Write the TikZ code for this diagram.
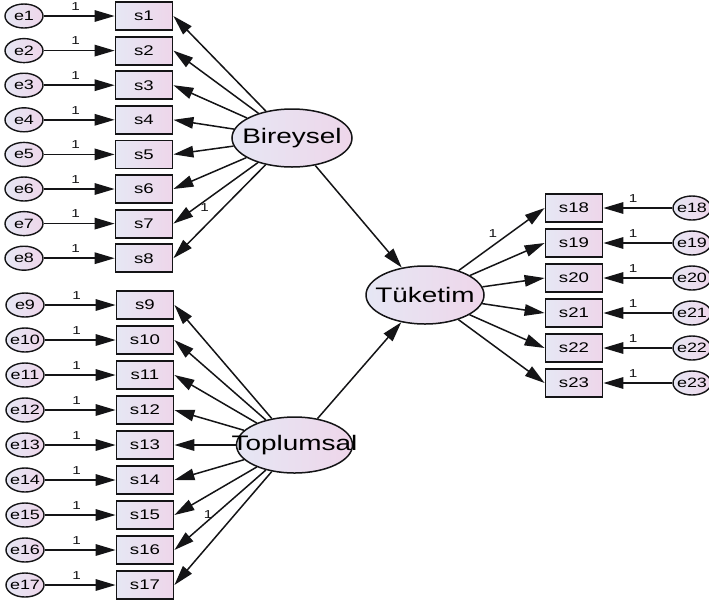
\documentclass[tikz,border=0pt]{standalone}
\usepackage{fontspec}
\setmainfont[FakeStretch=1.33]{Liberation Sans}
\usetikzlibrary{arrows.meta,shapes.geometric}

\definecolor{fillL}{RGB}{230,231,244}
\definecolor{fillR}{RGB}{238,214,234}
\definecolor{ink}{RGB}{20,20,22}

% zero-width text so that shapes keep their given size
\newcommand\zw[1]{\makebox[0pt]{#1}}

\begin{document}
\begin{tikzpicture}[x=1pt,y=-1pt,
  obs/.style={rectangle, draw=ink, line width=1.8pt, minimum width=57pt,
    minimum height=28pt, inner sep=0pt, left color=fillL, right color=fillR,
    font=\fontsize{14}{14}\selectfont},
  err/.style={ellipse, draw=ink, line width=1.4pt, minimum width=38pt,
    minimum height=24pt, inner sep=0pt, left color=fillL, right color=fillR,
    font=\fontsize{13.5}{13.5}\selectfont},
  lat/.style={ellipse, draw=ink, line width=1.5pt, minimum width=120pt,
    minimum height=58pt, inner sep=0pt, left color=fillL, right color=fillR,
    font=\fontsize{21}{21}\selectfont},
  path/.style={draw=ink, line width=1.5pt, -{Triangle[length=20pt,width=11.5pt]}},
  one/.style={font=\fontsize{11.5}{11.5}\selectfont, inner sep=1pt, text=ink}
]
\useasboundingbox (0,0) rectangle (709,603);
\clip (0,0) rectangle (709,603);
\fill[white] (0,0) rectangle (709,603);

% latent variables
\node[lat] (B) at (292,138) {\zw{Bireysel}};
\node[lat, minimum width=116pt, minimum height=56pt] (P) at (294.5,445) {\zw{Toplumsal}};
\node[lat, minimum width=118pt] (T) at (425,295) {\zw{Tüketim}};

% indicators of Bireysel
\foreach \i in {1,...,8} {
  \pgfmathsetmacro\yy{16+(\i-1)*34.6}
  \node[obs] (s\i) at (144,\yy) {s\i};
  \node[err] (e\i) at (24,\yy) {\zw{e\i}};
  \draw[path] (e\i) -- node[one, pos=0.45, above=4pt] {1} (s\i);
}

% indicators of Toplumsal
\foreach \i [count=\k from 0] in {9,...,17} {
  \pgfmathsetmacro\yy{305+\k*35}
  \node[obs] (s\i) at (145,\yy) {s\i};
  \node[err] (e\i) at (25,\yy) {\zw{e\i}};
  \draw[path] (e\i) -- node[one, pos=0.45, above=4pt] {1} (s\i);
}

% indicators of Tüketim
\foreach \i [count=\k from 0] in {18,...,23} {
  \pgfmathsetmacro\yy{208+\k*35}
  \node[obs] (s\i) at (574,\yy) {s\i};
  \node[err] (e\i) at (692,\yy) {\zw{e\i}};
  \draw[path] (e\i) -- node[one, pos=0.57, above=4pt] {1} (s\i);
}

% loadings
\foreach \i in {1,2,3,4,5,6,8} \draw[path] (B) -- (s\i.east);
\draw[path] (B) -- node[one, pos=0.63, below=1pt] {1} (s7.east);

\foreach \i in {9,...,15,17} \draw[path] (P) -- (s\i.east);
\draw[path] (P) -- node[one, pos=0.63, above=0pt] {1} (s16.east);

\draw[path] (T) -- node[one, pos=0.48, above left=1pt] {1} (s18.west);
\foreach \i in {19,...,23} \draw[path] (T) -- (s\i.west);

% structural paths
\draw[path] (B) -- (T);
\draw[path] (P) -- (T);
\end{tikzpicture}
\end{document}
